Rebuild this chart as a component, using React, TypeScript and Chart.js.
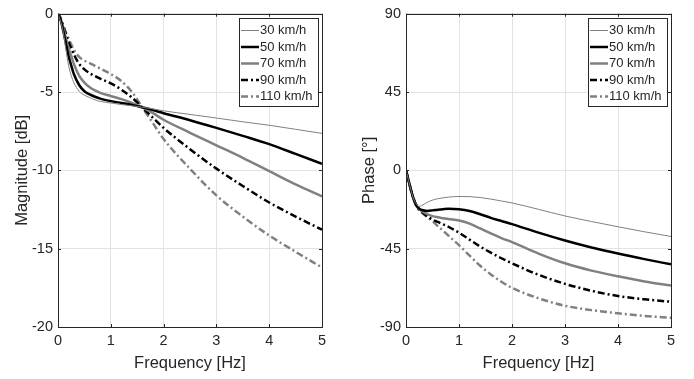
import React, { useEffect, useRef } from "react";
import { Chart, registerables } from "chart.js";
Chart.register(...registerables);

// ---------- data ----------
const freq = [0, 0.05, 0.1, 0.15, 0.2, 0.25, 0.3, 0.4, 0.5, 0.6, 0.7, 0.8, 1.0, 1.2, 1.4, 1.6, 1.8, 2.0, 2.5, 3.0, 3.5, 4.0, 4.5, 5.0];
const seriesLabels = ["30 km/h", "50 km/h", "70 km/h", "90 km/h", "110 km/h"];

const mag30 = [0, -0.5, -1.2, -2.3, -3.3, -3.95, -4.4, -4.95, -5.2, -5.35, -5.5, -5.6, -5.7, -5.8, -5.88, -5.97, -6.08, -6.2, -6.43, -6.66, -6.9, -7.12, -7.38, -7.64];
const mag50 = [0, -0.4, -1.1, -1.9, -2.7, -3.3, -3.85, -4.55, -4.95, -5.15, -5.3, -5.42, -5.58, -5.7, -5.82, -5.98, -6.15, -6.35, -6.8, -7.29, -7.8, -8.33, -8.95, -9.58];
const mag70 = [0, -0.35, -0.9, -1.55, -2.2, -2.7, -3.2, -3.95, -4.4, -4.7, -4.9, -5.05, -5.25, -5.45, -5.7, -6.0, -6.35, -6.77, -7.6, -8.4, -9.2, -10.05, -10.9, -11.66];
const mag90 = [0, -0.3, -0.8, -1.3, -1.8, -2.2, -2.6, -3.2, -3.55, -3.8, -3.98, -4.15, -4.45, -4.85, -5.35, -6.0, -6.65, -7.29, -8.65, -9.89, -11.0, -12.05, -12.95, -13.79];
const mag110 = [0, -0.3, -0.75, -1.2, -1.6, -1.95, -2.3, -2.75, -3.0, -3.15, -3.33, -3.5, -3.85, -4.3, -5.0, -6.0, -7.0, -8.0, -9.9, -11.6, -12.95, -14.16, -15.2, -16.2];

const phase30 = [0, -6, -12, -17, -19.5, -20.8, -20.2, -18.4, -17.1, -16.3, -15.8, -15.4, -15.0, -15.1, -15.6, -16.5, -17.6, -18.7, -22.4, -26.2, -29.4, -32.4, -35.3, -38.0];
const phase50 = [0, -6, -12, -17, -20.3, -22.0, -22.8, -23.3, -23.0, -22.6, -22.3, -22.1, -22.4, -23.4, -25.2, -27.3, -29.1, -30.9, -35.8, -40.3, -44.3, -47.8, -51.0, -54.0];
const phase70 = [0, -6, -12, -17, -20.5, -22.3, -23.5, -25.2, -26.3, -27.0, -27.5, -28.0, -28.8, -30.6, -33.4, -36.2, -38.9, -41.2, -47.8, -53.4, -57.6, -60.9, -63.8, -66.2];
const phase90 = [0, -6, -12, -17, -20.6, -22.6, -24.0, -26.4, -28.3, -29.6, -31.0, -32.4, -35.8, -39.8, -43.8, -47.3, -50.5, -53.4, -60.0, -65.2, -69.2, -72.2, -74.1, -75.5];
const phase110 = [0, -6, -12, -17, -20.7, -22.8, -24.3, -26.8, -29.2, -32.0, -34.7, -37.5, -43.0, -49.0, -54.8, -59.8, -64.0, -67.5, -73.5, -77.8, -80.3, -82.1, -83.6, -84.7];

const magTicks = { min: -20, max: 0, step: 5 };
const phaseTicks = { min: -90, max: 90, step: 45 };
const freqTicks = { min: 0, max: 5, step: 1 };

// ---------- styles ----------
const FONT = "'Liberation Sans', Arial, Helvetica, sans-serif";
const TEXT = "#262626";
const GRAY = "#808080";
const DASHDOT = [7, 3, 2, 3];
const lineStyles = [
  { color: GRAY, width: 1, dash: [] as number[] },
  { color: "#000000", width: 2.5, dash: [] as number[] },
  { color: GRAY, width: 2.5, dash: [] as number[] },
  { color: "#000000", width: 2.5, dash: DASHDOT },
  { color: GRAY, width: 2.5, dash: DASHDOT },
];

const framePlugin = {
  id: "matlabFrame",
  afterDatasetsDraw(chart: any) {
    const { ctx, chartArea: a } = chart;
    ctx.save();
    ctx.strokeStyle = TEXT;
    ctx.lineWidth = 1;
    ctx.setLineDash([]);
    ctx.strokeRect(Math.round(a.left) + 0.5, Math.round(a.top) + 0.5, Math.round(a.right - a.left), Math.round(a.bottom - a.top));
    const tl = 3;
    ctx.beginPath();
    chart.scales.x.ticks.forEach((t: any) => {
      const px = Math.round(chart.scales.x.getPixelForValue(t.value)) + 0.5;
      ctx.moveTo(px, a.bottom); ctx.lineTo(px, a.bottom - tl);
      ctx.moveTo(px, a.top); ctx.lineTo(px, a.top + tl);
    });
    chart.scales.y.ticks.forEach((t: any) => {
      const py = Math.round(chart.scales.y.getPixelForValue(t.value)) + 0.5;
      ctx.moveTo(a.left, py); ctx.lineTo(a.left + tl, py);
      ctx.moveTo(a.right, py); ctx.lineTo(a.right - tl, py);
    });
    ctx.stroke();
    ctx.restore();
  },
  afterDraw(chart: any) {
    const { ctx, chartArea: a } = chart;
    const w = 79, h = 88;
    const x0 = Math.round(a.right - 4 - w), y0 = Math.round(a.top + 4);
    ctx.save();
    ctx.fillStyle = "#ffffff";
    ctx.fillRect(x0, y0, w, h);
    ctx.strokeStyle = TEXT;
    ctx.lineWidth = 1;
    ctx.setLineDash([]);
    ctx.strokeRect(x0 + 0.5, y0 + 0.5, w, h);
    ctx.font = `13px ${FONT}`;
    ctx.textBaseline = "middle";
    ctx.textAlign = "left";
    chart.data.datasets.forEach((ds: any, i: number) => {
      const y = y0 + 12.5 + i * 16.5;
      ctx.beginPath();
      ctx.strokeStyle = ds.borderColor;
      ctx.lineWidth = ds.borderWidth;
      ctx.setLineDash(ds.borderDash || []);
      ctx.moveTo(x0 + 2, y);
      ctx.lineTo(x0 + 20, y);
      ctx.stroke();
      ctx.fillStyle = TEXT;
      ctx.fillText(ds.label, x0 + 21, y);
    });
    ctx.restore();
  },
};

type PanelProps = {
  left: number;
  series: number[][];
  yRange: { min: number; max: number; step: number };
  yTitle: string;
  yWidth: number;
  padRight: number;
};

function Panel({ left, series, yRange, yTitle, yWidth, padRight }: PanelProps) {
  const ref = useRef<HTMLCanvasElement | null>(null);
  useEffect(() => {
    if (!ref.current) return;
    const datasets = series.map((vals, i) => ({
      label: seriesLabels[i],
      data: freq.map((f, j) => ({ x: f, y: vals[j] })),
      borderColor: lineStyles[i].color,
      borderWidth: lineStyles[i].width,
      borderDash: lineStyles[i].dash,
      borderCapStyle: "butt",
      pointRadius: 0,
      fill: false,
      cubicInterpolationMode: "monotone",
    }));
    const chart = new Chart(ref.current, {
      type: "line",
      data: { datasets } as any,
      options: {
        responsive: false,
        animation: false,
        devicePixelRatio: 1,
        layout: { autoPadding: false, padding: { left: 0, right: padRight, top: 7, bottom: 0 } },
        plugins: { legend: { display: false }, tooltip: { enabled: false } },
        scales: {
          x: {
            type: "linear",
            min: freqTicks.min,
            max: freqTicks.max,
            afterFit: (s: any) => { s.height = 52; },
            ticks: { stepSize: freqTicks.step, color: TEXT, font: { family: FONT, size: 14.5 }, padding: 5, maxRotation: 0 },
            grid: { color: "#e3e3e3", drawTicks: false },
            border: { display: false },
            title: { display: true, text: "Frequency [Hz]", color: TEXT, font: { family: FONT, size: 16.5 }, padding: { top: 0, bottom: 6 } },
          },
          y: {
            type: "linear",
            min: yRange.min,
            max: yRange.max,
            afterFit: (s: any) => { s.width = yWidth; },
            ticks: { stepSize: yRange.step, color: TEXT, font: { family: FONT, size: 14.5 }, padding: 5 },
            grid: { color: "#e3e3e3", drawTicks: false },
            border: { display: false },
            title: { display: true, text: yTitle, color: TEXT, font: { family: FONT, size: 16.5 }, padding: { top: 13, bottom: 0 } },
          },
        },
      } as any,
      plugins: [framePlugin],
    });
    return () => chart.destroy();
  }, []);
  return (
    <div style={{ position: "absolute", left, top: 0, width: 347, height: 379 }}>
      <canvas ref={ref} width={347} height={379} style={{ width: 347, height: 379, display: "block" }} />
    </div>
  );
}

export default function App() {
  return (
    <div style={{ position: "fixed", left: 0, top: 0, width: 694, height: 379, background: "#ffffff" }}>
      <Panel left={0} series={[mag30, mag50, mag70, mag90, mag110]} yRange={magTicks} yTitle="Magnitude [dB]" yWidth={58} padRight={25} />
      <Panel left={347} series={[phase30, phase50, phase70, phase90, phase110]} yRange={phaseTicks} yTitle="Phase [°]" yWidth={59} padRight={23} />
    </div>
  );
}
